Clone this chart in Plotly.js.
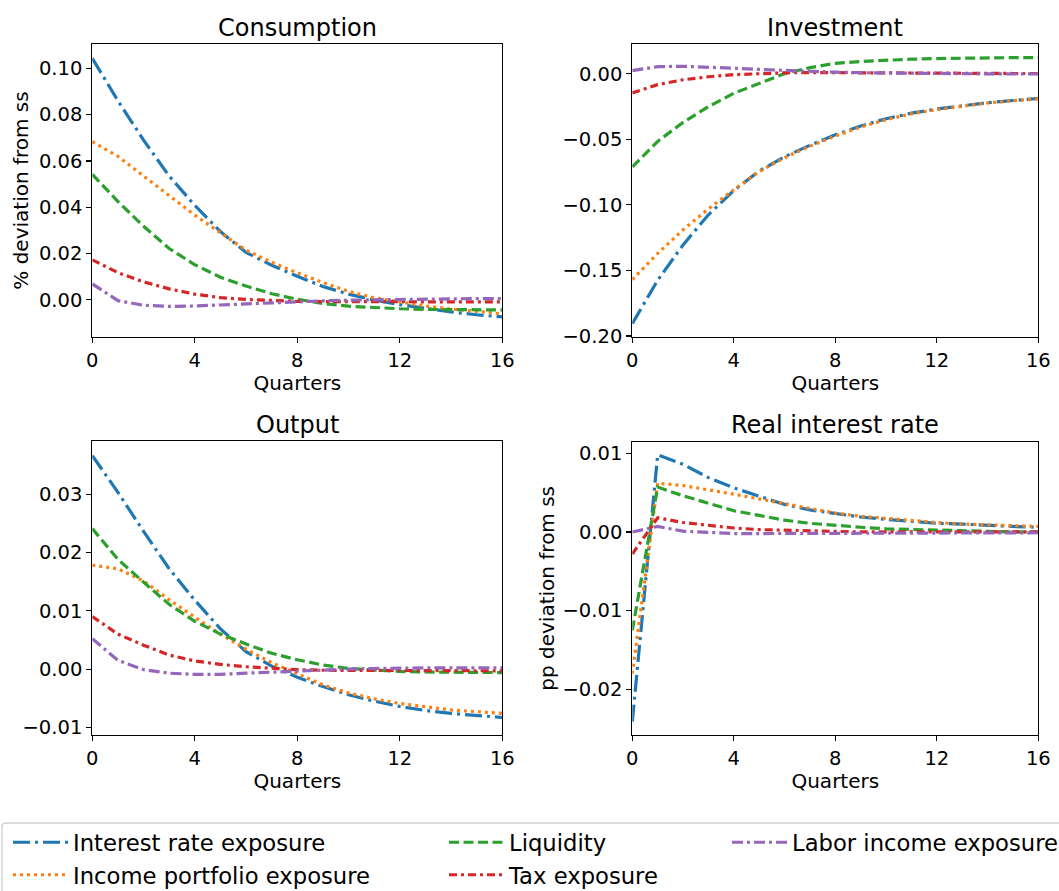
<!DOCTYPE html>
<html>
<head>
<meta charset="utf-8">
<script src="https://cdn.plot.ly/plotly-3.0.1.min.js"></script>
<style>html,body{margin:0;padding:0;background:#fff;overflow:hidden;}#chart{width:1059px;height:891px;overflow:hidden;}</style>
</head>
<body>
<div id="chart"></div>
<script>
// ---------- data ----------
const quarters = [0,1,2,3,4,5,6,7,8,9,10,11,12,13,14,15,16];
const seriesNames = ["Interest rate exposure","Income portfolio exposure","Liquidity","Tax exposure","Labor income exposure"];
const panelTitles = ["Consumption","Investment","Output","Real interest rate"];

const consInterest = [0.1043,0.0860,0.0690,0.0535,0.0408,0.0295,0.0205,0.0150,0.0102,0.0058,0.0025,0.0000,-0.0020,-0.0037,-0.0052,-0.0064,-0.0073];
const consIncome   = [0.0683,0.0620,0.0535,0.0450,0.0366,0.0290,0.0215,0.0163,0.0117,0.0075,0.0037,0.0009,-0.0010,-0.0026,-0.0039,-0.0050,-0.0060];
const consLiq      = [0.0542,0.0425,0.0318,0.0222,0.0152,0.0098,0.0060,0.0027,0.0003,-0.0015,-0.0027,-0.0034,-0.0038,-0.0041,-0.0042,-0.0043,-0.0043];
const consTax      = [0.0173,0.0118,0.0078,0.0048,0.0025,0.0010,0.0002,-0.0003,-0.0006,-0.0007,-0.0008,-0.0008,-0.0008,-0.0008,-0.0008,-0.0008,-0.0008];
const consLabor    = [0.0069,-0.0003,-0.0023,-0.0028,-0.0026,-0.0021,-0.0016,-0.0011,-0.0007,-0.0004,-0.0001,0.0001,0.0003,0.0004,0.0005,0.0006,0.0006];

const invInterest = [-0.1906,-0.1575,-0.1305,-0.1075,-0.0890,-0.0742,-0.0632,-0.0545,-0.0465,-0.0398,-0.0342,-0.0300,-0.0268,-0.0242,-0.0220,-0.0203,-0.0188];
const invIncome   = [-0.1570,-0.1370,-0.1190,-0.1030,-0.0884,-0.0745,-0.0640,-0.0552,-0.0475,-0.0405,-0.0350,-0.0305,-0.0272,-0.0245,-0.0222,-0.0205,-0.0190];
const invLiq      = [-0.0710,-0.0515,-0.0370,-0.0250,-0.0148,-0.0070,0.0002,0.0048,0.0080,0.0095,0.0105,0.0112,0.0117,0.0121,0.0123,0.0124,0.0125];
const invTax      = [-0.0145,-0.0082,-0.0045,-0.0022,-0.0006,0.0003,0.0008,0.0010,0.0010,0.0009,0.0008,0.0007,0.0006,0.0005,0.0004,0.0003,0.0003];
const invLabor    = [0.0025,0.0055,0.0058,0.0053,0.0043,0.0034,0.0025,0.0018,0.0013,0.0009,0.0006,0.0004,0.0002,0.0001,0.0000,-0.0001,-0.0001];

const outInterest = [0.0366,0.0303,0.0236,0.0172,0.0118,0.0069,0.0030,0.0005,-0.0014,-0.0030,-0.0044,-0.0055,-0.0064,-0.0071,-0.0076,-0.0080,-0.0083];
const outIncome   = [0.0178,0.0172,0.0151,0.0119,0.0089,0.0060,0.0034,0.0011,-0.0008,-0.0027,-0.0041,-0.0051,-0.0059,-0.0065,-0.0070,-0.0073,-0.0076];
const outLiq      = [0.0241,0.0188,0.0149,0.0111,0.0082,0.0060,0.0043,0.0027,0.0016,0.0007,0.0001,-0.0002,-0.0004,-0.0005,-0.0005,-0.0006,-0.0006];
const outTax      = [0.0090,0.0060,0.0041,0.0024,0.0014,0.0008,0.0004,0.0001,-0.0001,-0.0002,-0.0002,-0.0003,-0.0003,-0.0003,-0.0003,-0.0003,-0.0003];
const outLabor    = [0.0052,0.0015,-0.0001,-0.0007,-0.0009,-0.0009,-0.0007,-0.0005,-0.0003,-0.0001,0.0000,0.0001,0.0002,0.0002,0.0002,0.0002,0.0002];

const rInterest = [-0.0241,0.0098,0.0086,0.0069,0.0056,0.0045,0.0035,0.0028,0.0023,0.0019,0.0016,0.0013,0.0011,0.0010,0.0008,0.0007,0.0006];
const rIncome   = [-0.0180,0.0062,0.0059,0.0054,0.0048,0.0042,0.0036,0.0029,0.0024,0.0020,0.0017,0.0014,0.0012,0.0010,0.0009,0.0008,0.0007];
const rLiq      = [-0.0125,0.0057,0.0046,0.0036,0.0027,0.0021,0.0015,0.0011,0.0008,0.0006,0.0004,0.0003,0.0002,0.0001,0.0001,0.0000,0.0000];
const rTax      = [-0.0028,0.0018,0.0012,0.0008,0.0005,0.0003,0.0002,0.0001,0.0001,0.0000,0.0000,0.0000,0.0000,0.0000,0.0000,0.0000,0.0000];
const rLabor    = [0.0000,0.0007,0.0001,-0.0001,-0.0002,-0.0002,-0.0002,-0.0002,-0.0002,-0.0001,-0.0001,-0.0001,-0.0001,-0.0001,-0.0001,-0.0001,-0.0001];

const xTicks = [0,4,8,12,16];
const consTicks = [0.00,0.02,0.04,0.06,0.08,0.10];
const invTicks  = [-0.20,-0.15,-0.10,-0.05,0.00];
const outTicks  = [-0.01,0.00,0.01,0.02,0.03];
const rTicks    = [-0.02,-0.01,0.00,0.01];

// ---------- styling ----------
const colors = ["#1f77b4","#ff7f0e","#2ca02c","#d62728","#9467bd"];
const dashes = ["17px,5px,3px,5px","3px,4px","10px,4.5px","8px,4px,3px,4px","11px,4px,3px,4px"];
const legendIds = ["legend","legend","legend2","legend2","legend3"];
const FONT = "DejaVu Sans, sans-serif";

const panels = [
  {data:[consInterest,consIncome,consLiq,consTax,consLabor], xa:"x", ya:"y"},
  {data:[invInterest,invIncome,invLiq,invTax,invLabor], xa:"x2", ya:"y2"},
  {data:[outInterest,outIncome,outLiq,outTax,outLabor], xa:"x3", ya:"y3"},
  {data:[rInterest,rIncome,rLiq,rTax,rLabor], xa:"x4", ya:"y4"}
];

const traces = [];
panels.forEach((p,pi)=>{
  p.data.forEach((vals,si)=>{
    traces.push({
      type:"scatter", mode:"lines", x:quarters, y:vals,
      xaxis:p.xa, yaxis:p.ya, name:seriesNames[si],
      line:{color:colors[si], width:3.2, dash:dashes[si]},
      showlegend: pi===0, legend: legendIds[si],
      hoverinfo:"skip"
    });
  });
});

const W = 1059, H = 891;
const px = v => v / W;
const py = v => 1 - v / H;

function xaxis(d0,d1,anchor){
  return {domain:[px(d0),px(d1)], anchor:anchor, range:[0,16], tickvals:xTicks, ticktext:xTicks.map(String),
    showgrid:false, zeroline:false, showline:true, mirror:true, linecolor:"#000", linewidth:1.1,
    ticks:"outside", ticklen:5, tickwidth:1.1, tickcolor:"#000",
    tickfont:{family:FONT,size:19.5,color:"#000"},
    title:{text:"Quarters", font:{family:FONT,size:20,color:"#000"}, standoff:2}};
}
function yaxis(d0,d1,anchor,range,ticks,title,standoff){
  const o = {domain:[py(d1),py(d0)], anchor:anchor, range:range, tickvals:ticks, tickformat:".2f",
    showgrid:false, zeroline:false, showline:true, mirror:true, linecolor:"#000", linewidth:1.1,
    ticks:"outside", ticklen:5, tickwidth:1.1, tickcolor:"#000",
    tickfont:{family:FONT,size:19.5,color:"#000"}};
  if(title) o.title = {text:title, font:{family:FONT,size:20,color:"#000"}, standoff:standoff};
  return o;
}

const legendBase = {orientation:"v", xanchor:"left", yanchor:"top", bgcolor:"rgba(0,0,0,0)", borderwidth:0,
  font:{family:FONT,size:22.7,color:"#000"}, tracegroupgap:0, itemwidth:55};

const layout = {
  width:W, height:H, margin:{l:0,r:0,t:0,b:0,autoexpand:false}, paper_bgcolor:"#fff", plot_bgcolor:"#fff",
  font:{family:FONT,color:"#000"},
  xaxis: xaxis(92.3,502.3,"y"),
  yaxis: yaxis(44,337,"x",[-0.016,0.1105],consTicks,"% deviation from ss",4),
  xaxis2: xaxis(632.3,1038.3,"y2"),
  yaxis2: yaxis(44,337,"x2",[-0.2008,0.0228],invTicks,null),
  xaxis3: xaxis(92.3,502.3,"y3"),
  yaxis3: yaxis(441,735,"x3",[-0.0113,0.0391],outTicks,null),
  xaxis4: xaxis(632.3,1038.3,"y4"),
  yaxis4: yaxis(441.7,735,"x4",[-0.0258,0.01147],rTicks,"pp deviation from ss",2),
  legend:  Object.assign({}, legendBase, {x:px(8),   y:py(821)}),
  legend2: Object.assign({}, legendBase, {x:px(444), y:py(821)}),
  legend3: Object.assign({}, legendBase, {x:px(727), y:py(821)}),
  annotations: [
    {text:panelTitles[0], x:px(297.3), y:py(28), xref:"paper", yref:"paper", showarrow:false, xanchor:"center", yanchor:"middle", font:{family:FONT,size:24,color:"#000"}},
    {text:panelTitles[1], x:px(835.3), y:py(28), xref:"paper", yref:"paper", showarrow:false, xanchor:"center", yanchor:"middle", font:{family:FONT,size:24,color:"#000"}},
    {text:panelTitles[2], x:px(297.3), y:py(425), xref:"paper", yref:"paper", showarrow:false, xanchor:"center", yanchor:"middle", font:{family:FONT,size:24,color:"#000"}},
    {text:panelTitles[3], x:px(835.3), y:py(425), xref:"paper", yref:"paper", showarrow:false, xanchor:"center", yanchor:"middle", font:{family:FONT,size:24,color:"#000"}}
  ],
  shapes: [
    {type:"path", xref:"paper", yref:"paper",
     path:"M "+px(2)+","+py(900)+" L "+px(2)+","+py(827)+" Q "+px(2)+","+py(823)+" "+px(6)+","+py(823)+" L "+px(1070)+","+py(823),
     line:{color:"#d0d0d0", width:1.3}, fillcolor:"rgba(0,0,0,0)"}
  ]
};

Plotly.newPlot("chart", traces, layout, {staticPlot:true, displayModeBar:false});
</script>
</body>
</html>
